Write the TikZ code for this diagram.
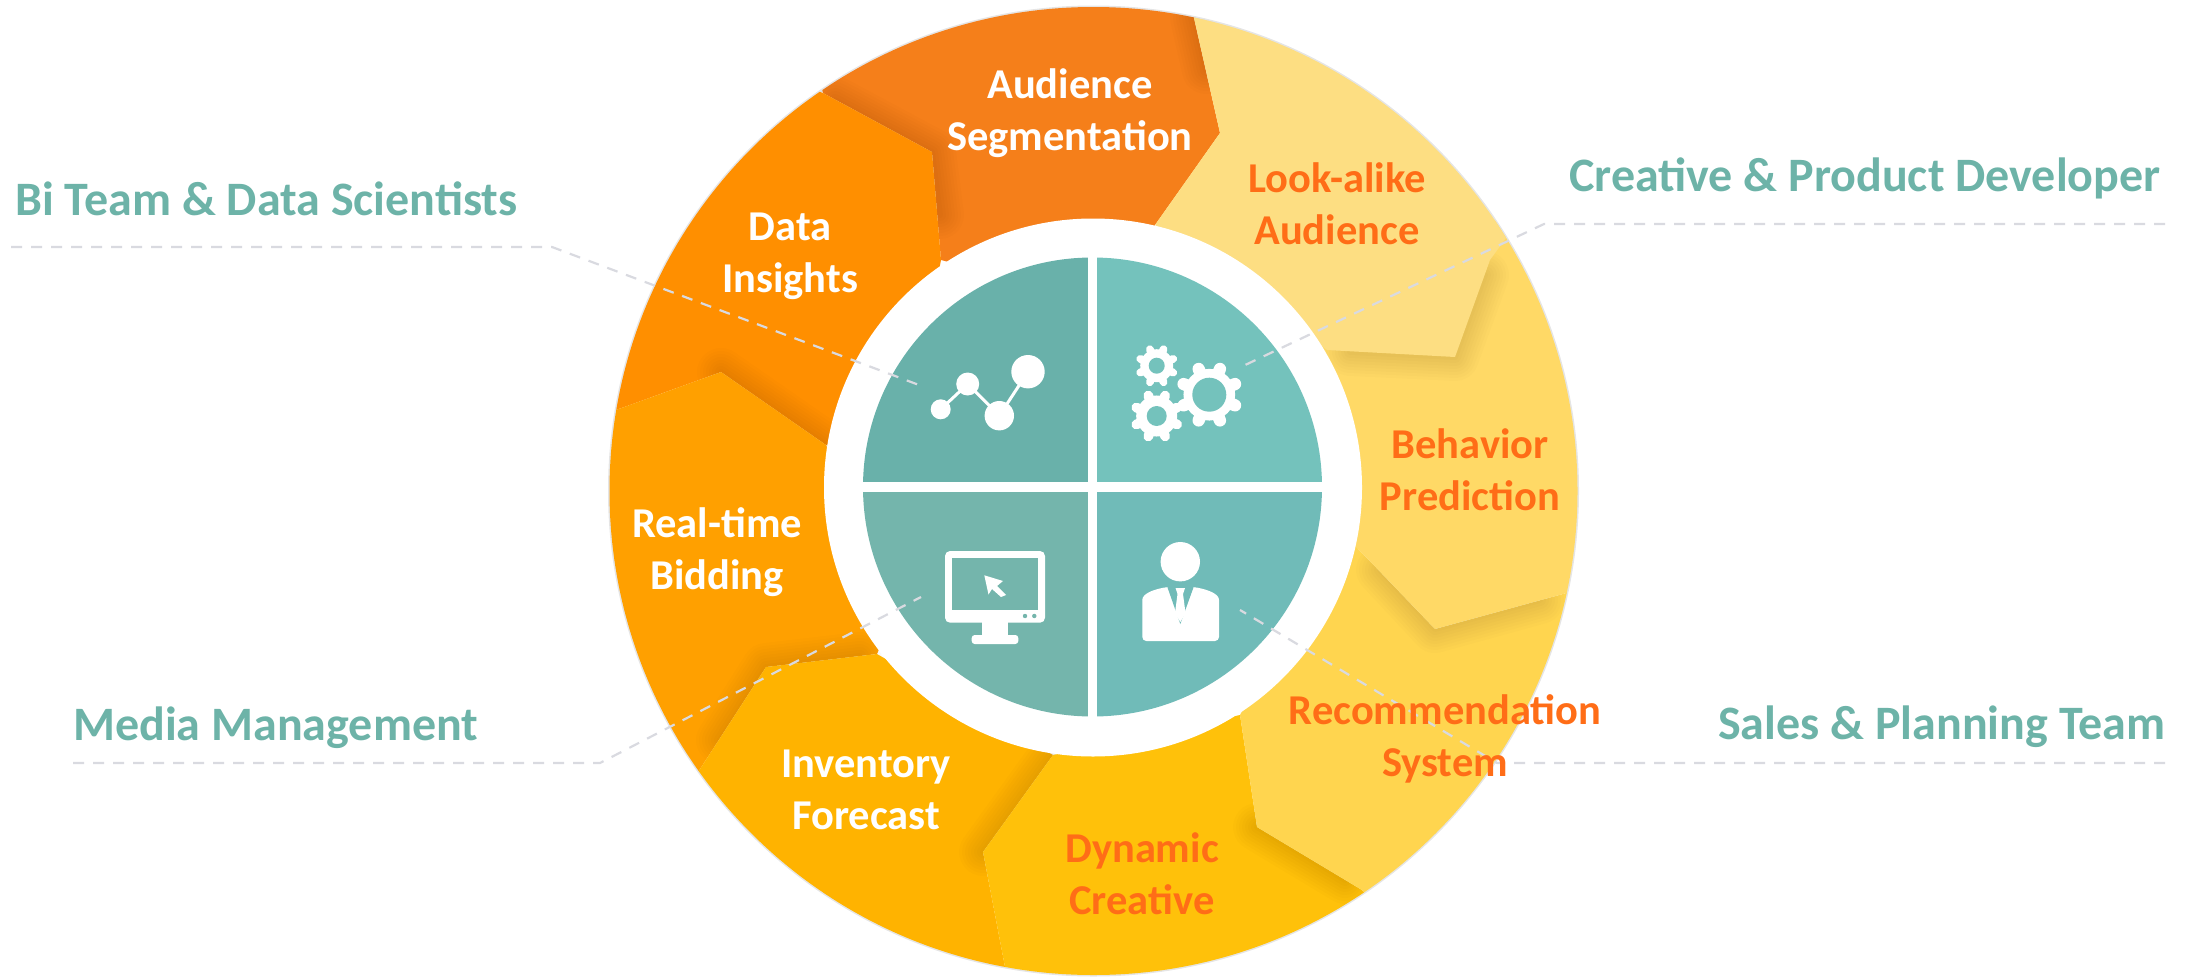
\documentclass[tikz,border=0pt]{standalone}
\usepackage{fontspec}
\setmainfont{Carlito}
\definecolor{segA}{HTML}{F57F1A}
\definecolor{segB}{HTML}{FF8F00}
\definecolor{segC}{HTML}{FFA000}
\definecolor{segD}{HTML}{FFB300}
\definecolor{segE}{HTML}{FFC10A}
\definecolor{segF}{HTML}{FFD54F}
\definecolor{segG}{HTML}{FFD966}
\definecolor{segH}{HTML}{FDDE82}
\definecolor{qA}{HTML}{69B1AA}
\definecolor{qB}{HTML}{74C2BC}
\definecolor{qC}{HTML}{74B5AC}
\definecolor{qD}{HTML}{70BBB8}
\definecolor{lab}{HTML}{6DB3A8}
\definecolor{hot}{HTML}{FF6D17}
\definecolor{lead}{HTML}{D9DAE0}
\newcommand{\softedge}[1]{%
  \foreach \w in {48,42,36,30,24,18,12,6}{\draw[black,opacity=.011,line width=\w pt,line cap=round,line join=round] #1;}}
\newcommand{\gearicon}[5]{% cx cy r hole bg
  \fill[white] (#1,#2) circle ({0.76*#3});
  \foreach \a in {0,45,...,315}{
    \draw[white,line width={0.36*#3 pt},line cap=round] (#1,#2) -- ++(\a+22.5:{#3-0.18*#3});}
  \fill[#5] (#1,#2) circle (#4);}
\tikzset{
  seglabel/.style={font=\fontsize{42.5}{52}\selectfont\bfseries,align=center,inner sep=0pt,text=white},
  seghot/.style={seglabel,text=hot},
  teamlabel/.style={font=\fontsize{48}{56}\selectfont\bfseries,inner sep=0pt,text=lab,anchor=west},
  leader/.style={lead,line width=2.2pt,dash pattern=on 11pt off 9pt},
}
\begin{document}
\begin{tikzpicture}[x=1pt,y=-1pt]
\useasboundingbox (0,0) rectangle (2190,977);
% halo
\draw[black!10,line width=3pt] (1093.5,491) circle (484);
\begin{scope}
\clip (1093.5,491) circle (484);
\fill[segA] (1194,18)--(1200,-10)--(800,-10)--(823,93)--(932,152)--(941,260)--(1093,300)--(1155,225)--(1220,133)--cycle;
\softedge{(1194,18)--(1206,70)}
\softedge{(835,100)--(932,152)--(940,215)}
\fill[segB] (823,93)--(932,152)--(941,260)--(900,480)--(826,445)--(721,372)--(616,410)--(560,400)--(700,50)--cycle;
\softedge{(721,372)--(826,445)}
\fill[segC] (616,410)--(721,372)--(826,445)--(900,600)--(877,654)--(766,667)--(680,800)--(500,700)--(500,400)--cycle;
\softedge{(720,740)--(766,667)--(860,656)}
\fill[segD] (766,667)--(877,654)--(1053,755)--(983,852)--(1005,967)--(990,1050)--(600,900)--(680,800)--cycle;
\softedge{(983,852)--(1053,755)}
\fill[segE] (1053,755)--(1240,715)--(1257,827)--(1362,890)--(1420,950)--(1000,1050)--(1005,967)--(983,852)--cycle;
\softedge{(1257,827)--(1345,880)}
\fill[segF] (1240,715)--(1257,827)--(1362,890)--(1400,930)--(1650,700)--(1620,578)--(1563,594)--(1435,629)--(1340,530)--cycle;
\softedge{(1380,570)--(1435,629)--(1540,600)}
\fill[segG] (1300,300)--(1530,205)--(1650,300)--(1620,578)--(1563,594)--(1435,629)--(1340,530)--cycle;
\softedge{(1350,352)--(1455,357)--(1485,275)}
\fill[segH] (1194,18)--(1220,133)--(1155,225)--(1327,350)--(1455,357)--(1490,260)--(1530,205)--(1400,-20)--(1200,-10)--cycle;
\end{scope}
% hub
\fill[white] (1093,487.5) circle (269);
\begin{scope}
\clip (1092.5,487) circle (229.5);
\fill[qA] (850,250) rectangle (1088,482);
\fill[qB] (1097,250) rectangle (1330,482);
\fill[qC] (850,492) rectangle (1088,720);
\fill[qD] (1097,492) rectangle (1330,720);
\end{scope}
% chart icon
\draw[white,line width=3pt] (940.7,409.3)--(967.7,384)--(999.3,415.7)--(1028,371.7);
\fill[white] (940.7,409.3) circle (10) (967.7,384) circle (11.5) (999.3,415.7) circle (14.7) (1028,371.7) circle (16.7);
% gear icons
\gearicon{1156.7}{365.7}{21.7}{8}{qB}
\gearicon{1156.7}{416}{27}{10}{qB}
\gearicon{1209.3}{394.7}{34}{17}{qB}
% monitor icon
\fill[white,rounded corners=5pt] (945,551) rectangle (1045,622.7);
\fill[qC] (951.7,557.7) rectangle (1038.3,610);
\fill[white] (981.7,620) rectangle (1008.3,637);
\fill[white,rounded corners=3pt] (971.7,635) rectangle (1018.3,644);
\fill[qC] (1025,616) circle (2.2) (1034.3,616) circle (2.2);
\fill[white] (984.3,575.3)--(1003,581)--(997,586)--(1006,595)--(1001,597)--(992,589)--(988.5,594.5)--cycle;
% person icon
\fill[white] (1180.3,561.7) circle (19.7);
\fill[white,rounded corners=4pt] (1142.3,641)--(1142.3,604) .. controls (1142.3,594) and (1152,590) .. (1167,587)--(1194,587) .. controls (1209,590) and (1219,594) .. (1219,604)--(1219,641)--cycle;
\fill[qD] (1167,586)--(1180.3,624)--(1194,586)--cycle;
\fill[white] (1175.5,588)--(1185,588)--(1183,594)--(1185.5,613)--(1180.3,622)--(1175,613)--(1177.5,594)--cycle;
% leaders
\coordinate (biA) at (11,247); \coordinate (biB) at (552,247); \coordinate (biC) at (919,385);
\coordinate (crA) at (2165,224); \coordinate (crB) at (1544,224); \coordinate (crC) at (1243,366);
\coordinate (meA) at (73,763); \coordinate (meB) at (600,763); \coordinate (meC) at (921,597);
\coordinate (saA) at (2165,763); \coordinate (saB) at (1497,763); \coordinate (saC) at (1240,610);
\draw[leader] (biA)--(biB)--(biC);
\draw[leader] (crA)--(crB)--(crC);
\draw[leader] (meA)--(meB)--(meC);
\draw[leader] (saA)--(saB)--(saC);
% segment labels
\node[seglabel] (n1) at (1070,113) {Audience\\Segmentation};
\node[seglabel] (n2) at (790,256) {Data\\Insights};
\node[seglabel] (n3) at (717,552) {Real-time\\Bidding};
\node[seglabel] (n4) at (866,790) {Inventory\\Forecast};
\node[seghot] (n5) at (1142,874) {Dynamic\\Creative};
\node[seghot] (n6) at (1445,739) {Recommendation\\System};
\node[seghot] (n7) at (1470,470) {Behavior\\Prediction};
\node[seghot] (n8) at (1337,204) {Look-alike\\Audience};
% team labels
\node[teamlabel] (t1) at (15,199) {Bi Team \& Data Scientists};
\node[teamlabel] (t2) at (1569,178) {Creative \& Product Developer};
\node[teamlabel] (t3) at (73,728) {Media Management};
\node[teamlabel] (t4) at (1718,727) {Sales \& Planning Team};
\end{tikzpicture}
\end{document}
